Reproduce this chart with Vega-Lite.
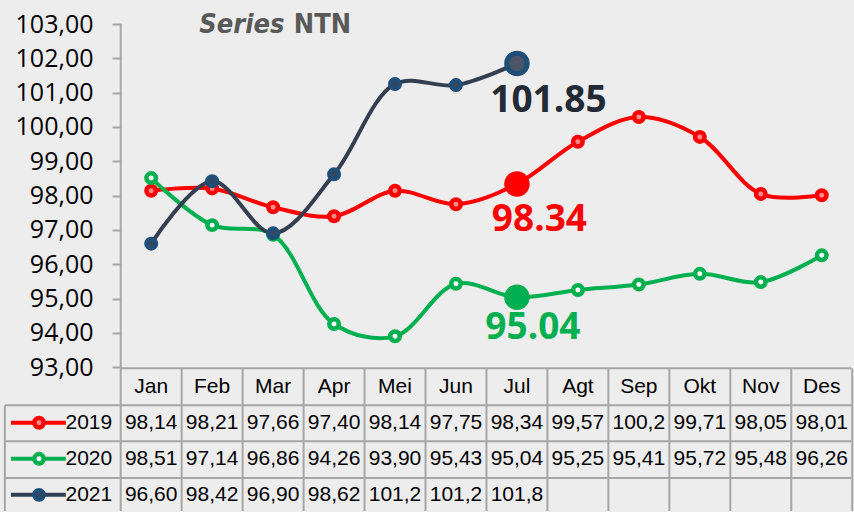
{
  "$schema": "https://vega.github.io/schema/vega-lite/v6.json",
  "width": 854,
  "height": 512,
  "autosize": {"type": "fit", "contains": "padding"},
  "padding": 0,
  "background": "#ededed",
  "config": {
    "view": {"stroke": null},
    "axisY": {"grid": false, "domain": false, "labelFont": "Open Sans", "labelFontSize": 25, "labelColor": "#000000", "labelPadding": 19, "tickSize": 9, "tickWidth": 2, "tickColor": "#a6a6a6", "offset": -121}
  },
  "datasets": {
    "ntn": [
      {"s": "2019", "m": "Jan", "n": 1, "v": 98.14},
      {"s": "2019", "m": "Feb", "n": 2, "v": 98.21},
      {"s": "2019", "m": "Mar", "n": 3, "v": 97.66},
      {"s": "2019", "m": "Apr", "n": 4, "v": 97.40},
      {"s": "2019", "m": "Mei", "n": 5, "v": 98.14},
      {"s": "2019", "m": "Jun", "n": 6, "v": 97.75},
      {"s": "2019", "m": "Jul", "n": 7, "v": 98.34},
      {"s": "2019", "m": "Agt", "n": 8, "v": 99.57},
      {"s": "2019", "m": "Sep", "n": 9, "v": 100.29},
      {"s": "2019", "m": "Okt", "n": 10, "v": 99.71},
      {"s": "2019", "m": "Nov", "n": 11, "v": 98.05},
      {"s": "2019", "m": "Des", "n": 12, "v": 98.01},
      {"s": "2020", "m": "Jan", "n": 1, "v": 98.51},
      {"s": "2020", "m": "Feb", "n": 2, "v": 97.14},
      {"s": "2020", "m": "Mar", "n": 3, "v": 96.86},
      {"s": "2020", "m": "Apr", "n": 4, "v": 94.26},
      {"s": "2020", "m": "Mei", "n": 5, "v": 93.90},
      {"s": "2020", "m": "Jun", "n": 6, "v": 95.43},
      {"s": "2020", "m": "Jul", "n": 7, "v": 95.04},
      {"s": "2020", "m": "Agt", "n": 8, "v": 95.25},
      {"s": "2020", "m": "Sep", "n": 9, "v": 95.41},
      {"s": "2020", "m": "Okt", "n": 10, "v": 95.72},
      {"s": "2020", "m": "Nov", "n": 11, "v": 95.48},
      {"s": "2020", "m": "Des", "n": 12, "v": 96.26},
      {"s": "2021", "m": "Jan", "n": 1, "v": 96.60},
      {"s": "2021", "m": "Feb", "n": 2, "v": 98.42},
      {"s": "2021", "m": "Mar", "n": 3, "v": 96.90},
      {"s": "2021", "m": "Apr", "n": 4, "v": 98.62},
      {"s": "2021", "m": "Mei", "n": 5, "v": 101.25},
      {"s": "2021", "m": "Jun", "n": 6, "v": 101.22},
      {"s": "2021", "m": "Jul", "n": 7, "v": 101.85}
    ]
  },
  "resolve": {"scale": {"fill": "independent"}},
  "layer": [
    {
      "data": {"name": "ntn"},
      "mark": {"type": "line", "interpolate": "catmull-rom", "strokeWidth": 4},
      "encoding": {
        "x": {"field": "n", "type": "quantitative", "scale": {"domain": [-1.48, 12.48], "nice": false, "zero": false}, "axis": null},
        "y": {"field": "v", "type": "quantitative", "title": null, "scale": {"domain": [88.81, 103.7], "nice": false, "zero": false},
          "axis": {
            "orient": "left", "offset": -121, "values": [93, 94, 95, 96, 97, 98, 99, 100, 101, 102, 103],
            "labelExpr": "replace(format(datum.value, '.2f'), '.', ',')",
            "domain": false, "grid": false, "title": null
          }},
        "color": {"field": "s", "type": "nominal", "legend": null,
          "scale": {"domain": ["2019", "2020", "2021"], "range": ["#ff0000", "#00b050", "#333f50"]}}
      }
    },
    {
      "data": {"values": [{}]},
      "mark": {"type": "rule", "color": "#a6a6a6", "strokeWidth": 2},
      "encoding": {
        "x": {"datum": 0.5, "type": "quantitative", "axis": null},
        "y": {"datum": 103, "type": "quantitative", "title": null},
        "y2": {"datum": 88.81}
      }
    },
    {
      "data": {"values": [{}]},
      "mark": {"type": "rule", "color": "#a6a6a6", "strokeWidth": 2},
      "encoding": {
        "x": {"datum": 0.5, "type": "quantitative", "axis": null},
        "x2": {"datum": 12.48},
        "y": {"datum": 92.97, "type": "quantitative", "title": null}
      }
    },
    {
      "data": {"values": [{}]},
      "mark": {"type": "rule", "color": "#a6a6a6", "strokeWidth": 2},
      "encoding": {
        "x": {"datum": -1.4, "type": "quantitative", "axis": null},
        "x2": {"datum": 12.48},
        "y": {"datum": 91.89, "type": "quantitative", "title": null}
      }
    },
    {
      "data": {"values": [{}]},
      "mark": {"type": "rule", "color": "#a6a6a6", "strokeWidth": 2},
      "encoding": {
        "x": {"datum": -1.4, "type": "quantitative", "axis": null},
        "x2": {"datum": 12.48},
        "y": {"datum": 90.84, "type": "quantitative", "title": null}
      }
    },
    {
      "data": {"values": [{}]},
      "mark": {"type": "rule", "color": "#a6a6a6", "strokeWidth": 2},
      "encoding": {
        "x": {"datum": -1.4, "type": "quantitative", "axis": null},
        "x2": {"datum": 12.48},
        "y": {"datum": 89.77, "type": "quantitative", "title": null}
      }
    },
    {
      "data": {"values": [{}]},
      "mark": {"type": "rule", "color": "#a6a6a6", "strokeWidth": 2},
      "encoding": {
        "x": {"datum": -1.4, "type": "quantitative", "axis": null},
        "y": {"datum": 91.89, "type": "quantitative", "title": null},
        "y2": {"datum": 88.81}
      }
    },
    {
      "data": {"name": "ntn"},
      "transform": [{"filter": "datum.s == '2019'"}, {"calculate": "datum.n + 0.5", "as": "xr"}],
      "mark": {"type": "rule", "color": "#a6a6a6", "strokeWidth": 2},
      "encoding": {
        "x": {"field": "xr", "type": "quantitative", "axis": null},
        "y": {"datum": 92.97, "type": "quantitative", "title": null},
        "y2": {"datum": 88.81}
      }
    },
    {
      "data": {"name": "ntn"},
      "transform": [{"filter": "datum.n != 7"}],
      "mark": {"type": "point", "shape": "circle", "filled": true, "opacity": 1, "size": 90, "strokeWidth": 4.5},
      "encoding": {
        "x": {"field": "n", "type": "quantitative", "axis": null},
        "y": {"field": "v", "type": "quantitative", "title": null},
        "stroke": {"field": "s", "type": "nominal", "legend": null,
          "scale": {"domain": ["2019", "2020", "2021"], "range": ["#ff0000", "#00b050", "#1f4e79"]}},
        "fill": {"field": "s", "type": "nominal", "legend": null,
          "scale": {"domain": ["2019", "2020", "2021"], "range": ["#ff8a8a", "#ffffff", "#3a4556"]}}
      }
    },
    {
      "data": {"name": "ntn"},
      "transform": [{"filter": "datum.n == 7"}],
      "mark": {"type": "point", "shape": "circle", "filled": true, "opacity": 1, "size": 420, "strokeWidth": 5},
      "encoding": {
        "x": {"field": "n", "type": "quantitative", "axis": null},
        "y": {"field": "v", "type": "quantitative", "title": null},
        "stroke": {"field": "s", "type": "nominal", "legend": null,
          "scale": {"domain": ["2019", "2020", "2021"], "range": ["#ff0000", "#00b050", "#1f4e79"]}},
        "fill": {"field": "s", "type": "nominal", "legend": null,
          "scale": {"domain": ["2019", "2020", "2021"], "range": ["#ff0000", "#00b050", "#4a5568"]}}
      }
    },
    {
      "data": {"name": "ntn"},
      "transform": [{"filter": "datum.n == 7 && datum.s == '2021'"}],
      "mark": {"type": "text", "font": "Open Sans", "fontWeight": "bold", "fontSize": 37, "color": "#222a35", "align": "center", "baseline": "alphabetic", "dx": 31.5, "dy": 48.5},
      "encoding": {
        "x": {"field": "n", "type": "quantitative", "axis": null},
        "y": {"field": "v", "type": "quantitative", "title": null},
        "text": {"field": "v", "type": "quantitative", "format": ".2f"}
      }
    },
    {
      "data": {"name": "ntn"},
      "transform": [{"filter": "datum.n == 7 && datum.s == '2019'"}],
      "mark": {"type": "text", "font": "Open Sans", "fontWeight": "bold", "fontSize": 37, "color": "#ff0000", "align": "center", "baseline": "alphabetic", "dx": 22.5, "dy": 47},
      "encoding": {
        "x": {"field": "n", "type": "quantitative", "axis": null},
        "y": {"field": "v", "type": "quantitative", "title": null},
        "text": {"field": "v", "type": "quantitative", "format": ".2f"}
      }
    },
    {
      "data": {"name": "ntn"},
      "transform": [{"filter": "datum.n == 7 && datum.s == '2020'"}],
      "mark": {"type": "text", "font": "Open Sans", "fontWeight": "bold", "fontSize": 37, "color": "#00b050", "align": "center", "baseline": "alphabetic", "dx": 16, "dy": 42},
      "encoding": {
        "x": {"field": "n", "type": "quantitative", "axis": null},
        "y": {"field": "v", "type": "quantitative", "title": null},
        "text": {"field": "v", "type": "quantitative", "format": ".2f"}
      }
    },
    {
      "data": {"values": [{}]},
      "mark": {"type": "text", "text": "Series", "font": "DejaVu Sans Condensed, sans-serif", "fontStyle": "italic", "fontWeight": "bold", "fontSize": 27, "color": "#595959", "align": "left", "baseline": "alphabetic"},
      "encoding": {
        "x": {"datum": 1.79, "type": "quantitative", "axis": null},
        "y": {"datum": 102.74, "type": "quantitative", "title": null}
      }
    },
    {
      "data": {"values": [{}]},
      "mark": {"type": "text", "text": "NTN", "font": "DejaVu Sans Condensed, sans-serif", "fontWeight": "bold", "fontSize": 27, "color": "#595959", "align": "left", "baseline": "alphabetic"},
      "encoding": {
        "x": {"datum": 3.34, "type": "quantitative", "axis": null},
        "y": {"datum": 102.74, "type": "quantitative", "title": null}
      }
    },
    {
      "data": {"name": "ntn"},
      "transform": [{"filter": "datum.s == '2019'"}],
      "mark": {"type": "text", "font": "Liberation Sans", "fontSize": 21, "color": "#000000", "align": "center", "baseline": "middle"},
      "encoding": {
        "x": {"field": "n", "type": "quantitative", "axis": null},
        "y": {"datum": 92.43, "type": "quantitative", "title": null},
        "text": {"field": "m", "type": "nominal"}
      }
    },
    {
      "data": {"name": "ntn"},
      "transform": [
        {"calculate": "datum.s == '2019' ? 91.38 : datum.s == '2020' ? 90.33 : 89.28", "as": "ry"},
        {"calculate": "replace(datum.v >= 100 ? format(floor(datum.v * 10) / 10, '.1f') : format(datum.v, '.2f'), '.', ',')", "as": "t"}
      ],
      "mark": {"type": "text", "font": "Liberation Sans", "fontSize": 21, "color": "#000000", "align": "center", "baseline": "middle"},
      "encoding": {
        "x": {"field": "n", "type": "quantitative", "axis": null},
        "y": {"field": "ry", "type": "quantitative", "title": null},
        "text": {"field": "t", "type": "nominal"}
      }
    },
    {
      "data": {"name": "ntn"},
      "transform": [
        {"filter": "datum.n == 1"},
        {"calculate": "datum.s == '2019' ? 91.38 : datum.s == '2020' ? 90.33 : 89.28", "as": "ry"}
      ],
      "mark": {"type": "rule", "strokeWidth": 4},
      "encoding": {
        "x": {"datum": -1.3, "type": "quantitative", "axis": null},
        "x2": {"datum": -0.4},
        "y": {"field": "ry", "type": "quantitative", "title": null},
        "color": {"field": "s", "type": "nominal", "legend": null,
          "scale": {"domain": ["2019", "2020", "2021"], "range": ["#ff0000", "#00b050", "#333f50"]}}
      }
    },
    {
      "data": {"name": "ntn"},
      "transform": [
        {"filter": "datum.n == 1"},
        {"calculate": "datum.s == '2019' ? 91.38 : datum.s == '2020' ? 90.33 : 89.28", "as": "ry"}
      ],
      "mark": {"type": "point", "shape": "circle", "filled": true, "opacity": 1, "size": 90, "strokeWidth": 4.5},
      "encoding": {
        "x": {"datum": -0.84, "type": "quantitative", "axis": null},
        "y": {"field": "ry", "type": "quantitative", "title": null},
        "stroke": {"field": "s", "type": "nominal", "legend": null,
          "scale": {"domain": ["2019", "2020", "2021"], "range": ["#ff0000", "#00b050", "#1f4e79"]}},
        "fill": {"field": "s", "type": "nominal", "legend": null,
          "scale": {"domain": ["2019", "2020", "2021"], "range": ["#ff8a8a", "#ffffff", "#3a4556"]}}
      }
    },
    {
      "data": {"name": "ntn"},
      "transform": [
        {"filter": "datum.n == 1"},
        {"calculate": "datum.s == '2019' ? 91.38 : datum.s == '2020' ? 90.33 : 89.28", "as": "ry"}
      ],
      "mark": {"type": "text", "font": "Liberation Sans", "fontSize": 21, "color": "#000000", "align": "right", "baseline": "middle"},
      "encoding": {
        "x": {"datum": 0.36, "type": "quantitative", "axis": null},
        "y": {"field": "ry", "type": "quantitative", "title": null},
        "text": {"field": "s", "type": "nominal"}
      }
    }
  ]
}
